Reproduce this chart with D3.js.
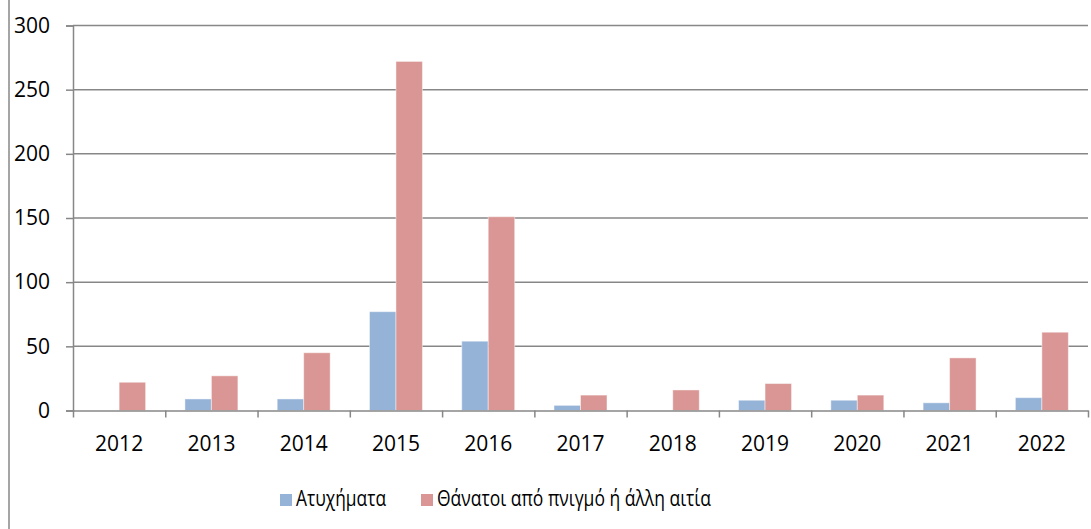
<!DOCTYPE html>
<html>
<head>
<meta charset="utf-8">
<script src="https://cdn.jsdelivr.net/npm/d3@7"></script>
<style>
  body { margin: 0; background: #fff; }
  svg { display: block; font-family: "Open Sans", "Noto Sans", sans-serif; }
</style>
</head>
<body>
<svg id="chart" width="1091" height="529"></svg>
<script>
// chart data
let years = ["2012", "2013", "2014", "2015", "2016", "2017", "2018", "2019", "2020", "2021", "2022"];
let accidents = [0, 9, 9, 77, 54, 4, 0, 8, 8, 6, 10];
let drownings = [22, 27, 45, 272, 151, 12, 16, 21, 12, 41, 61];
let seriesNames = ["Ατυχήματα", "Θάνατοι από πνιγμό ή άλλη αιτία"];
let seriesColors = ["#95b3d7", "#d99694"];
let yTicks = [0, 50, 100, 150, 200, 250, 300];

let svg = d3.select("#chart");
let plotLeft = 73, plotRight = 1088, plotTop = 25.5, plotBottom = 410.5;
let axisColor = "#878787";

// outer frame line on the left
svg.append("line")
    .attr("x1", 9).attr("x2", 9)
    .attr("y1", 0).attr("y2", 529)
    .style("stroke", axisColor).style("stroke-width", 1.5);

let y = d3.scaleLinear().domain([0, 300]).range([plotBottom, plotTop]);

let x = d3.scaleBand()
    .domain(years)
    .range([plotLeft, plotRight])
    .paddingInner(0.426)
    .paddingOuter(0.213);

let xs = d3.scaleBand()
    .domain([0, 1])
    .range([0, x.bandwidth()]);

// gridlines
svg.append("g").selectAll("line")
    .data(yTicks.filter(function(d) { return d > 0; }))
    .enter().append("line")
    .attr("x1", plotLeft).attr("x2", plotRight)
    .attr("y1", function(d) { return y(d); })
    .attr("y2", function(d) { return y(d); })
    .style("stroke", axisColor).style("stroke-width", 1.5);

// bars
let rows = years.map(function(yr, i) {
    return {year: yr, values: [accidents[i], drownings[i]]};
});

let groups = svg.append("g").selectAll(".year_g")
    .data(rows)
    .enter().append("g")
    .attr("class", "year_g")
    .attr("transform", function(d) { return "translate(" + x(d.year) + ",0)"; });

groups.selectAll("rect")
    .data(function(d) { return d.values; })
    .enter().append("rect")
    .attr("x", function(d, i) { return xs(i); })
    .attr("y", function(d) { return y(d); })
    .attr("width", xs.bandwidth())
    .attr("height", function(d) { return y(0) - y(d); })
    .style("fill", function(d, i) { return seriesColors[i]; })
    .style("stroke", "rgba(255,255,255,0.45)")
    .style("stroke-width", 1);

// y axis
let yAxis = svg.append("g")
    .attr("transform", "translate(" + plotLeft + ",0)")
    .call(d3.axisLeft(y).tickValues(yTicks).tickSize(7).tickPadding(16).tickFormat(d3.format("d")));
yAxis.selectAll("path, line").style("stroke", axisColor).style("stroke-width", 1.5);
yAxis.selectAll("text")
    .style("font-size", "21px")
    .style("font-family", "'Open Sans', sans-serif")
    .style("fill", "#000");

// x axis with ticks on category boundaries
let xi = d3.scaleLinear().domain([0, years.length]).range([plotLeft, plotRight]);
let xAxis = svg.append("g")
    .attr("transform", "translate(0," + plotBottom + ")")
    .call(d3.axisBottom(xi).tickValues(d3.range(years.length + 1)).tickSize(7).tickSizeOuter(0).tickFormat(""));
xAxis.selectAll("path, line").style("stroke", axisColor).style("stroke-width", 1.5);

svg.append("g").selectAll("text")
    .data(years)
    .enter().append("text")
    .attr("x", function(d) { return x(d) + x.bandwidth() / 2; })
    .attr("y", 451)
    .attr("text-anchor", "middle")
    .style("font-size", "21px")
    .style("fill", "#000")
    .text(function(d) { return d; });

// legend
let legendX = [280, 421];
let legendW = [90, 274];
let legend = svg.append("g").selectAll("g")
    .data(seriesNames)
    .enter().append("g")
    .attr("transform", function(d, i) { return "translate(" + legendX[i] + ",494)"; });

legend.append("rect")
    .attr("width", 12).attr("height", 12)
    .style("fill", function(d, i) { return seriesColors[i]; });

legend.append("text")
    .attr("x", 16)
    .attr("y", 12)
    .attr("textLength", function(d, i) { return legendW[i]; })
    .attr("lengthAdjust", "spacingAndGlyphs")
    .style("font-size", "21px")
    .style("fill", "#000")
    .text(function(d) { return d; });
</script>
</body>
</html>
